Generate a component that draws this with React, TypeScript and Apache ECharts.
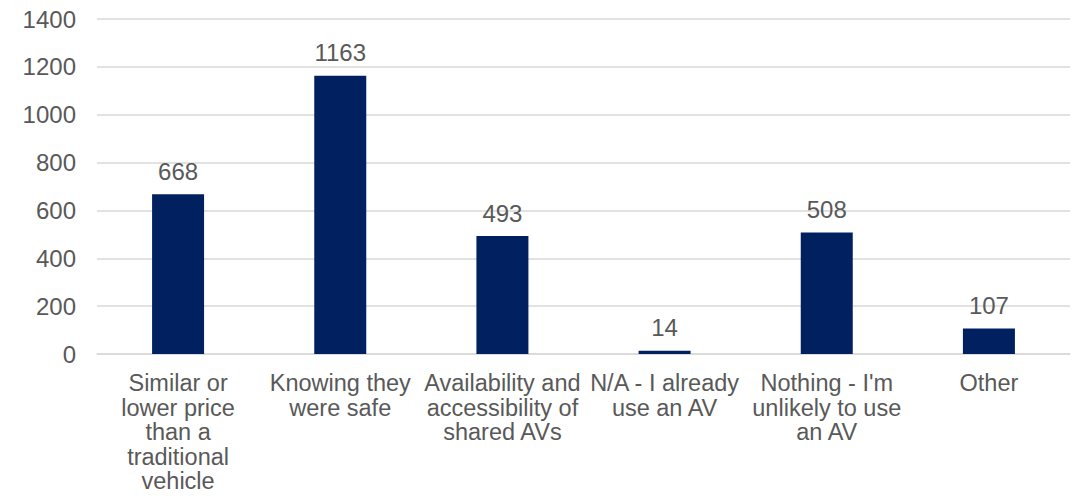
import React, { useEffect, useRef } from "react";
import * as echarts from "echarts";

const categories = [
  "Similar or\nlower price\nthan a\ntraditional\nvehicle",
  "Knowing they\nwere safe",
  "Availability and\naccessibility of\nshared AVs",
  "N/A - I already\nuse an AV",
  "Nothing - I'm\nunlikely to use\nan AV",
  "Other",
];
const values = [668, 1163, 493, 14, 508, 107];
const yTicks = { min: 0, max: 1400, step: 200 };

const FONT = "Liberation Sans, Arial, sans-serif";
const TEXT = "#595959";

export default function App() {
  const ref = useRef<HTMLDivElement>(null);
  useEffect(() => {
    const chart = echarts.init(ref.current!, null, { renderer: "svg" });
    chart.setOption({
      animation: false,
      grid: { left: 97, right: 8, top: 19, bottom: 150 },
      xAxis: {
        type: "category",
        data: categories,
        axisTick: { show: false },
        axisLine: { lineStyle: { color: "#d9d9d9", width: 1.5 } },
        axisLabel: {
          interval: 0,
          color: TEXT,
          fontFamily: FONT,
          fontSize: 23.5,
          lineHeight: 24.5,
          margin: 17,
        },
      },
      yAxis: {
        type: "value",
        min: yTicks.min,
        max: yTicks.max,
        interval: yTicks.step,
        axisLine: { show: false },
        axisTick: { show: false },
        splitLine: { lineStyle: { color: "#d9d9d9", width: 1.5 } },
        axisLabel: {
          color: TEXT,
          fontFamily: FONT,
          fontSize: 24,
          margin: 21,
          formatter: (v: number) => String(v),
        },
      },
      series: [
        {
          type: "bar",
          data: values,
          barWidth: 52,
          itemStyle: { color: "#002060" },
          label: {
            show: true,
            position: "top",
            distance: 11,
            color: TEXT,
            fontFamily: FONT,
            fontSize: 24,
          },
        },
      ],
    });
    return () => chart.dispose();
  }, []);
  return <div ref={ref} style={{ width: 1078, height: 504, position: "absolute", left: 0, top: 0 }} />;
}
